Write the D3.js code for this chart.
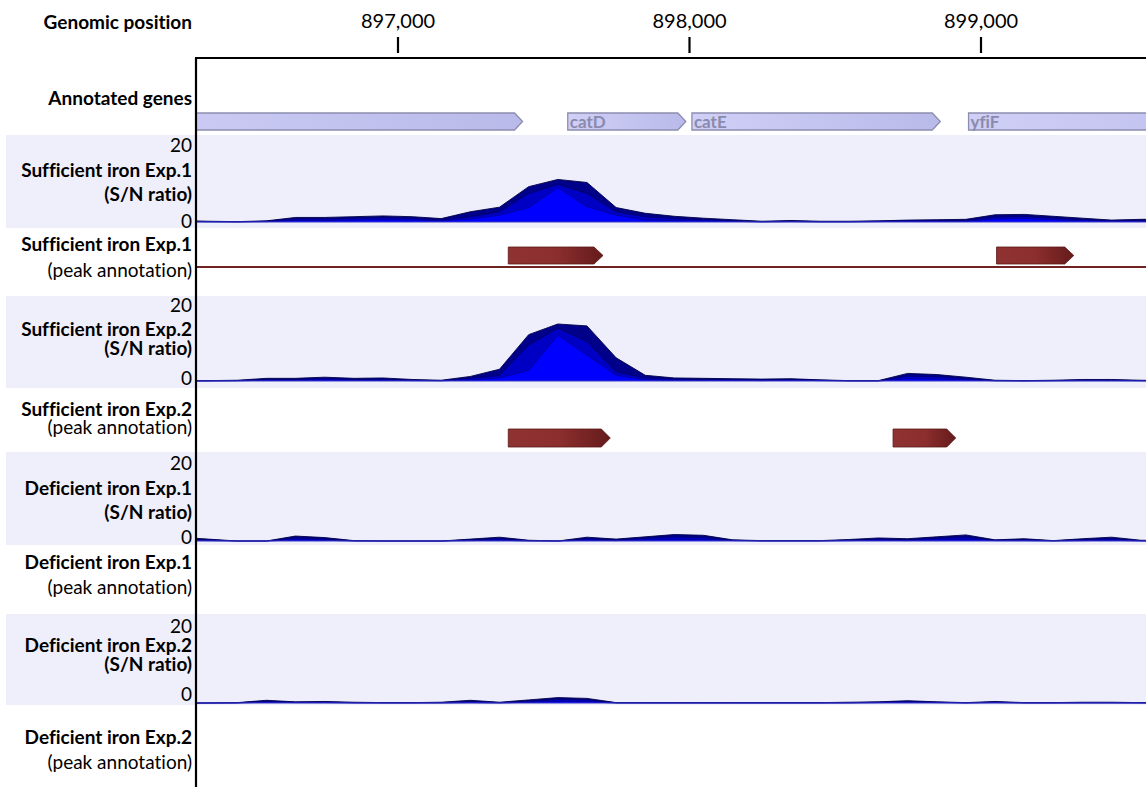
<!DOCTYPE html>
<html>
<head>
<meta charset="utf-8">
<script src="https://cdn.jsdelivr.net/npm/d3@7"></script>
<style>
  body { margin: 0; background: #fff; }
  svg { display: block; }
  text { font-family: Lato, "Open Sans", sans-serif; fill: #000; font-variant-ligatures: none; }
</style>
</head>
<body>
<svg id="chart" width="1146" height="787"></svg>
<script>
// ---- data ---------------------------------------------------------------
// sampling positions of the S/N profiles (bp)
const positions = [896250, 896350, 896450, 896550, 896650, 896750, 896850, 896950,
  897050, 897150, 897250, 897350, 897450, 897550, 897650, 897750, 897850, 897950,
  898050, 898150, 898250, 898350, 898450, 898550, 898650, 898750, 898850, 898950,
  899050, 899150, 899250, 899350, 899450, 899550, 899650];

const axisTicks = [897000, 898000, 899000];

// annotated genes
const geneNames  = ["", "catD", "catE", "yfiF"];
const geneStarts = [895900, 897584, 898010, 898959];
const geneEnds   = [897429, 897989, 898862, 900200];

// S/N ratio profiles, three overlaid layers per experiment
const suff1Outer = [0.4,0.2,0.1,0.3,1.2,1.2,1.4,1.6,1.4,0.9,2.7,3.9,9.3,11.2,10.4,3.8,2.3,1.5,1.0,0.6,0.2,0.4,0.2,0.2,0.3,0.5,0.6,0.7,1.9,2.0,1.5,1.0,0.5,0.7,0.8];
const suff1Mid   = [0.2,0.1,0.05,0.2,0.8,0.8,1.0,1.1,1.0,0.5,1.4,2.7,7.5,9.9,7.5,2.7,1.4,0.9,0.6,0.3,0.1,0.2,0.1,0.1,0.2,0.3,0.4,0.4,1.3,1.4,1.0,0.6,0.3,0.4,0.5];
const suff1Inner = [0.1,0.05,0,0.1,0.4,0.4,0.5,0.6,0.5,0.3,0.8,1.8,3.8,9.0,4.0,1.8,0.5,0.4,0.3,0.2,0,0.1,0,0,0.1,0.2,0.2,0.2,0.8,0.9,0.6,0.3,0.2,0.2,0.3];

const suff2Outer = [0.1,0.1,0.2,0.7,0.7,1.0,0.7,0.8,0.4,0.2,1.2,3.1,12.2,15.0,14.5,6.1,1.5,0.8,0.7,0.6,0.5,0.6,0.3,0.1,0.1,2.0,1.7,1.0,0.2,0.1,0.2,0.4,0.4,0.2,0.1];
const suff2Mid   = [0.05,0.05,0.1,0.4,0.4,0.6,0.4,0.5,0.2,0.1,0.7,1.5,9.4,13.9,10.4,2.4,0.8,0.5,0.4,0.4,0.3,0.4,0.2,0.05,0.05,1.3,1.1,0.6,0.1,0.05,0.1,0.2,0.2,0.1,0.05];
const suff2Inner = [0,0,0.05,0.2,0.2,0.3,0.2,0.2,0.1,0.05,0.3,0.8,2.8,12.0,6.8,1.5,0.3,0.2,0.2,0.2,0.1,0.2,0.1,0,0,0.6,0.5,0.3,0.05,0,0.05,0.1,0.1,0.05,0];

const def1Outer = [1.0,0.5,0,0,1.3,0.9,0.1,0,0,0,0.5,1.0,0.2,0,1.0,0.5,1.1,1.7,1.5,0.3,0.1,0.1,0.1,0.4,0.8,0.6,1.1,1.6,0.3,0.6,0.1,0.6,1.0,0.2,0.1];
const def1Mid   = [0.6,0.3,0,0,0.8,0.5,0.05,0,0,0,0.3,0.6,0.1,0,0.6,0.3,0.7,1.1,0.9,0.2,0.05,0.05,0.05,0.2,0.5,0.4,0.7,1.0,0.2,0.4,0.05,0.4,0.6,0.1,0.05];
const def1Inner = [0.2,0.1,0,0,0.3,0.2,0,0,0,0,0.1,0.2,0,0,0.2,0.1,0.3,0.4,0.3,0.1,0,0,0,0.1,0.2,0.1,0.3,0.4,0.1,0.1,0,0.1,0.2,0,0];

const def2Outer = [0,0,0.1,0.7,0.3,0.4,0.2,0.1,0.1,0.2,0.7,0.2,0.8,1.4,1.2,0.1,0.1,0.1,0.1,0.1,0.1,0.1,0.1,0.2,0.3,0.6,0.3,0.1,0.4,0.1,0.1,0.2,0.2,0.1,0];
const def2Mid   = [0,0,0.05,0.4,0.2,0.2,0.1,0.05,0.05,0.1,0.4,0.1,0.5,0.9,0.8,0.05,0.05,0.05,0.05,0.05,0.05,0.05,0.05,0.1,0.2,0.4,0.2,0.05,0.2,0.05,0.05,0.1,0.1,0.05,0];
const def2Inner = [0,0,0,0.2,0.1,0.1,0,0,0,0,0.1,0,0.2,0.4,0.3,0,0,0,0,0,0,0,0,0,0.1,0.2,0.1,0,0.1,0,0,0,0,0,0];

// called peaks
const suff1PeakStarts = [897380, 899055];
const suff1PeakEnds   = [897705, 899320];
const suff2PeakStarts = [897380, 898700];
const suff2PeakEnds   = [897730, 898915];
const def1PeakStarts = [];
const def1PeakEnds   = [];
const def2PeakStarts = [];
const def2PeakEnds   = [];

const yTickLabels = ["0", "20"];

// ---- layout -------------------------------------------------------------
const W = 1146, H = 787;
const plotLeft = 196, plotRight = 1146, axisY = 58;
const labelX = 192;
const labelSize = 19;

const svg = d3.select("#chart");

const x = d3.scaleLinear().domain([897000, 899000]).range([397.5, 980.5]);

const defs = svg.append("defs");
defs.append("clipPath").attr("id", "plotClip")
  .append("rect").attr("x", plotLeft).attr("y", 0).attr("width", plotRight - plotLeft).attr("height", H);

const geneGrad = defs.append("linearGradient").attr("id", "geneGrad")
  .attr("x1", "0%").attr("x2", "100%").attr("y1", "0%").attr("y2", "0%");
geneGrad.append("stop").attr("offset", "0%").attr("stop-color", "#cfcff7");
geneGrad.append("stop").attr("offset", "100%").attr("stop-color", "#babaea");

const peakGrad = defs.append("linearGradient").attr("id", "peakGrad")
  .attr("x1", "0%").attr("x2", "100%").attr("y1", "0%").attr("y2", "0%");
peakGrad.append("stop").attr("offset", "0%").attr("stop-color", "#8f3232");
peakGrad.append("stop").attr("offset", "50%").attr("stop-color", "#8c2e2e");
peakGrad.append("stop").attr("offset", "100%").attr("stop-color", "#651b1b");

// track definitions (layout only; values come from the arrays above)
const tracks = [
  { title: "Sufficient iron Exp.1", layers: [suff1Outer, suff1Mid, suff1Inner],
    bandTop: 135, bandBottom: 228, base: 222, y20: 146, lab20: 145, lab0: 221, t1: 170, t2: 194,
    peakStarts: suff1PeakStarts, peakEnds: suff1PeakEnds, pLab1: 244, pLab2: 270, arrowTop: 247, arrowBot: 264, line: 267 },
  { title: "Sufficient iron Exp.2", layers: [suff2Outer, suff2Mid, suff2Inner],
    bandTop: 296, bandBottom: 388, base: 381, y20: 305, lab20: 305, lab0: 378, t1: 329, t2: 348,
    peakStarts: suff2PeakStarts, peakEnds: suff2PeakEnds, pLab1: 409, pLab2: 427, arrowTop: 429, arrowBot: 447, line: null },
  { title: "Deficient iron Exp.1", layers: [def1Outer, def1Mid, def1Inner],
    bandTop: 452, bandBottom: 545, base: 541, y20: 465, lab20: 463, lab0: 537, t1: 488, t2: 512,
    peakStarts: def1PeakStarts, peakEnds: def1PeakEnds, pLab1: 562, pLab2: 587, arrowTop: 570, arrowBot: 588, line: null },
  { title: "Deficient iron Exp.2", layers: [def2Outer, def2Mid, def2Inner],
    bandTop: 614, bandBottom: 705, base: 703, y20: 626, lab20: 626, lab0: 694, t1: 645, t2: 664,
    peakStarts: def2PeakStarts, peakEnds: def2PeakEnds, pLab1: 737, pLab2: 762, arrowTop: 745, arrowBot: 763, line: null }
];

const layerFill   = ["#000088", "#0000c4", "#0000ff"];
const layerStroke = ["#00004a", "#00006e", "#0000a0"];

// ---- header / axis --------------------------------------------------------
svg.append("rect").attr("width", W).attr("height", H).attr("fill", "#fff");

svg.append("text").attr("x", labelX).attr("y", 22).attr("dy", "0.35em")
  .attr("text-anchor", "end").attr("font-weight", 700).attr("font-size", labelSize)
  .text("Genomic position");

const axisG = svg.append("g").attr("transform", `translate(0,${axisY - 5})`);
axisG.call(d3.axisTop(x).tickValues(axisTicks).tickSize(16).tickPadding(9)
  .tickFormat(d3.format(",")));
axisG.select(".domain").remove();
axisG.selectAll(".tick line").attr("stroke", "#000").attr("stroke-width", 2.2);
axisG.selectAll(".tick text").attr("font-size", 20).attr("font-family", "Lato, sans-serif").attr("fill", "#000");

// ---- track bands and labels ---------------------------------------------
tracks.forEach(t => {
  svg.append("rect").attr("x", 6).attr("y", t.bandTop)
    .attr("width", W - 6).attr("height", t.bandBottom - t.bandTop).attr("fill", "#efeffb");
});

svg.append("text").attr("x", labelX).attr("y", 98).attr("dy", "0.35em")
  .attr("text-anchor", "end").attr("font-weight", 700).attr("font-size", labelSize)
  .text("Annotated genes");

tracks.forEach(t => {
  const lab = (txt, y, bold) => svg.append("text").attr("x", labelX).attr("y", y).attr("dy", "0.35em")
    .attr("text-anchor", "end").attr("font-size", labelSize).attr("font-weight", bold ? 700 : 400).text(txt);
  lab(yTickLabels[1], t.lab20, false);
  lab(yTickLabels[0], t.lab0, false);
  lab(t.title, t.t1, true);
  lab("(S/N ratio)", t.t2, true);
  lab(t.title, t.pLab1, true);
  lab("(peak annotation)", t.pLab2, false);
});

// ---- plot content ----------------------------------------------------------
const plot = svg.append("g").attr("clip-path", "url(#plotClip)");

// genes
const geneTop = 113, geneBot = 130, geneTip = 8;
const geneData = geneNames.map((n, i) => ({ name: n, start: geneStarts[i], end: geneEnds[i] }));
const arrowPath = (x0, x1, y0, y1, tip) => {
  const ym = (y0 + y1) / 2;
  return `M${x0},${y0}L${x1 - tip},${y0}L${x1},${ym}L${x1 - tip},${y1}L${x0},${y1}Z`;
};
const genes = plot.selectAll("g.gene").data(geneData).join("g").attr("class", "gene");
genes.append("path")
  .attr("d", d => arrowPath(x(d.start), x(d.end), geneTop, geneBot, geneTip))
  .attr("fill", "url(#geneGrad)").attr("stroke", "#8d8db0").attr("stroke-width", 1.3);
genes.append("text")
  .attr("x", d => x(d.start) + 2).attr("y", (geneTop + geneBot) / 2).attr("dy", "0.36em")
  .attr("font-size", 17).attr("font-weight", 700).style("fill", "#8a8aac")
  .text(d => d.name);

// S/N profiles
tracks.forEach(t => {
  const y = d3.scaleLinear().domain([0, 20]).range([t.base, t.y20]);
  const g = plot.append("g");
  t.layers.forEach((vals, li) => {
    const pts = positions.map((p, i) => [p, vals[i]]);
    const area = d3.area().x(d => x(d[0])).y0(y(0)).y1(d => y(d[1]));
    const line = d3.line().x(d => x(d[0])).y(d => y(d[1]));
    g.append("path").attr("d", area(pts)).attr("fill", layerFill[li]);
    g.append("path").attr("d", line(pts)).attr("fill", "none")
      .attr("stroke", layerStroke[li]).attr("stroke-width", 0.9).attr("stroke-linejoin", "round");
  });
  g.append("line").attr("x1", plotLeft).attr("x2", plotRight)
    .attr("y1", y(0)).attr("y2", y(0)).attr("stroke", "#3a3ac4").attr("stroke-width", 1.2);

  // peak annotation row
  if (t.line !== null) {
    plot.append("line").attr("x1", plotLeft).attr("x2", plotRight)
      .attr("y1", t.line).attr("y2", t.line).attr("stroke", "#6e2222").attr("stroke-width", 1.8);
  }
  const peaks = t.peakStarts.map((s, i) => ({ start: s, end: t.peakEnds[i] }));
  plot.selectAll(null).data(peaks).join("path")
    .attr("d", d => arrowPath(x(d.start), x(d.end), t.arrowTop, t.arrowBot, 9))
    .attr("fill", "url(#peakGrad)").attr("stroke", "#5a1616").attr("stroke-width", 0.8);
});

// frame: top axis line and left border
svg.append("line").attr("x1", plotLeft - 1).attr("x2", plotRight).attr("y1", axisY).attr("y2", axisY)
  .attr("stroke", "#000").attr("stroke-width", 2.2);
svg.append("line").attr("x1", plotLeft).attr("x2", plotLeft).attr("y1", axisY).attr("y2", H)
  .attr("stroke", "#000").attr("stroke-width", 2.2);
</script>
</body>
</html>
